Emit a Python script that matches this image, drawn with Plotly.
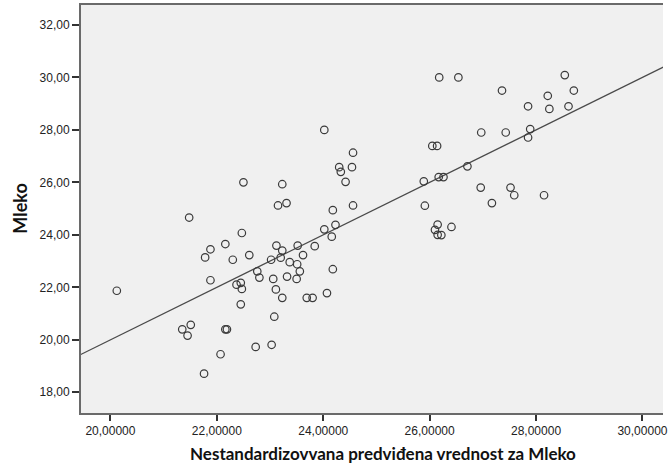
import plotly.graph_objects as go

pred = [
    24.02, 24.56, 24.30, 24.54, 24.33, 22.50, 24.42, 23.23, 23.15, 23.31,
    24.56, 24.18, 21.48, 24.23, 24.02, 22.47, 24.16, 22.16, 23.12, 23.52,
    23.84, 21.88, 23.23, 22.61, 23.62, 21.78, 23.20, 22.30, 23.02, 23.37,
    23.51, 22.76, 23.56, 24.18, 22.80, 23.32, 23.06, 23.50, 21.88, 22.37,
    22.45, 22.47, 23.11, 20.12, 24.07, 23.23, 23.69, 23.80, 22.45, 23.08,
    21.51, 21.35, 22.16, 22.19, 21.45, 22.73, 23.03, 22.07, 21.76,
    26.18, 26.54, 28.54, 27.36, 28.71, 28.22, 27.85, 28.25, 28.61, 26.97,
    27.43, 27.89, 27.85, 26.14, 26.05, 26.71, 26.26, 25.89, 26.17, 26.96,
    27.52, 27.59, 26.41, 28.15, 25.91, 27.17, 26.15, 26.10, 26.15, 26.22,
]
obs = [
    28.00, 27.13, 26.58, 26.58, 26.40, 26.00, 26.02, 25.93, 25.12, 25.21,
    25.12, 24.94, 24.66, 24.38, 24.21, 24.07, 23.93, 23.65, 23.59, 23.59,
    23.57, 23.45, 23.40, 23.23, 23.23, 23.14, 23.13, 23.05, 23.05, 22.96,
    22.88, 22.61, 22.61, 22.69, 22.37, 22.41, 22.32, 22.32, 22.27, 22.10,
    22.17, 21.94, 21.92, 21.87, 21.78, 21.60, 21.60, 21.60, 21.35, 20.88,
    20.57, 20.40, 20.40, 20.40, 20.16, 19.73, 19.81, 19.45, 18.71,
    30.00, 30.00, 30.09, 29.50, 29.50, 29.30, 28.90, 28.80, 28.90, 27.90,
    27.90, 28.03, 27.71, 27.39, 27.39, 26.61, 26.20, 26.04, 26.20, 25.80,
    25.80, 25.51, 24.30, 25.51, 25.11, 25.21, 24.39, 24.19, 24.00, 23.99,
]
# Fit line of observed on predicted
fit_x = [19.40, 30.45]
fit_y = [19.40, 30.45]

x_ticks = [20, 22, 24, 26, 28, 30]
x_tick_text = ["20,00000", "22,00000", "24,00000", "26,00000", "28,00000", "30,00000"]
y_ticks = [18, 20, 22, 24, 26, 28, 30, 32]
y_tick_text = ["18,00", "20,00", "22,00", "24,00", "26,00", "28,00", "30,00", "32,00"]

fig = go.Figure()
fig.add_trace(go.Scatter(
    x=fit_x, y=fit_y, mode="lines",
    line=dict(color="#4a4a4a", width=1.2), hoverinfo="skip",
))
fig.add_trace(go.Scatter(
    x=pred, y=obs, mode="markers",
    marker=dict(symbol="circle-open", size=7.5, color="#3a3a3a", line=dict(width=1.2)),
))

fig.update_layout(
    width=668, height=465,
    margin=dict(l=81, r=0, t=5, b=52),
    paper_bgcolor="white",
    plot_bgcolor="#f0f0f0",
    showlegend=False,
    font=dict(family="Liberation Sans, Arial, sans-serif", size=12, color="#222"),
    xaxis=dict(
        range=[19.447, 30.386], showgrid=False, zeroline=False,
        showline=True, linecolor="#6a6a6a", linewidth=2, mirror=True,
        ticks="outside", ticklen=6, tickcolor="#333", tickwidth=1.5,
        tickvals=x_ticks, ticktext=x_tick_text, ticklabeloverflow="allow",
    ),
    yaxis=dict(
        range=[17.21, 32.76], showgrid=False, zeroline=False,
        showline=True, linecolor="#6a6a6a", linewidth=2,
        ticks="outside", ticklen=7, tickcolor="#333", tickwidth=1.5,
        tickvals=y_ticks, ticktext=y_tick_text,
    ),
    annotations=[
        dict(text="<b>Nestandardizovvana predviđena vrednost za Mleko</b>",
             xref="paper", yref="paper", x=(386 - 81) / 587, y=-(453 - 412.7) / 407.7,
             xanchor="center", yanchor="middle", showarrow=False,
             font=dict(family="Lato, Open Sans, sans-serif", size=17, color="#111")),
        dict(text="<b>Mleko</b>", textangle=-90,
             xref="paper", yref="paper", x=-(81 - 20) / 587, y=(412.7 - 209) / 407.7,
             xanchor="center", yanchor="middle", showarrow=False,
             font=dict(family="Lato, Open Sans, sans-serif", size=18, color="#111")),
    ],
)

fig.write_html("out.html")
